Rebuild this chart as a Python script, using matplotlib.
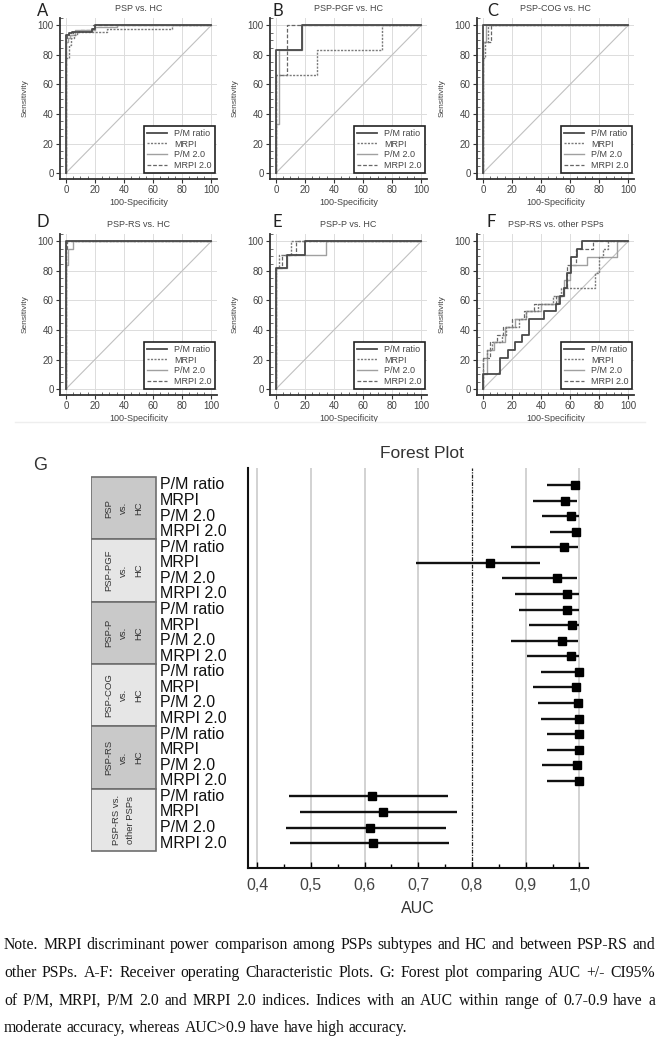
import numpy as np
import matplotlib
matplotlib.use("Agg")
import matplotlib.pyplot as plt
from matplotlib.patches import Rectangle
from matplotlib.ticker import MultipleLocator

plt.rcParams['font.family'] = ['Liberation Sans', 'DejaVu Sans']

##--- ROC data: (100-specificity, sensitivity) step points
index_names = ['P/M ratio', 'MRPI', 'P/M 2.0', 'MRPI 2.0']
roc_titles = ['PSP vs. HC', 'PSP-PGF vs. HC', 'PSP-COG vs. HC',
              'PSP-RS vs. HC', 'PSP-P vs. HC', 'PSP-RS vs. other PSPs']
roc_letters = ['A', 'B', 'C', 'D', 'E', 'F']

roc_A = {
    'P/M ratio': ([0, 0, 2, 2, 4, 4, 18, 18, 20, 20, 100],
                  [0, 93.5, 93.5, 94.6, 94.6, 95.7, 95.7, 97.8, 97.8, 100, 100]),
    'MRPI': ([0, 0, 2, 2, 3.5, 3.5, 5.5, 5.5, 8, 8, 28, 28, 73, 73, 100],
             [0, 78, 78, 87, 87, 91.3, 91.3, 93.5, 93.5, 95.7, 95.7, 97.8, 97.8, 100, 100]),
    'P/M 2.0': ([0, 0, 1.5, 1.5, 3, 3, 6, 6, 20, 20, 35, 35, 100],
                [0, 89, 89, 91.3, 91.3, 93.5, 93.5, 96.8, 96.8, 98.9, 98.9, 100, 100]),
    'MRPI 2.0': ([0, 0, 1, 1, 5, 5, 9, 9, 19, 19, 100],
                 [0, 91.3, 91.3, 93.5, 93.5, 95.7, 95.7, 96.8, 96.8, 100, 100]),
}
roc_B = {
    'P/M ratio': ([0, 0, 18, 18, 100], [0, 83.3, 83.3, 100, 100]),
    'MRPI': ([0, 0, 28, 28, 73, 73, 100], [0, 66.7, 66.7, 83.3, 83.3, 100, 100]),
    'P/M 2.0': ([0, 0, 2, 2, 18, 18, 100], [0, 33.3, 33.3, 83.3, 83.3, 100, 100]),
    'MRPI 2.0': ([0, 0, 8, 8, 100], [0, 66.7, 66.7, 100, 100]),
}
roc_C = {
    'P/M ratio': ([0, 0, 100], [0, 100, 100]),
    'MRPI': ([0, 0, 1.5, 1.5, 3.4, 3.4, 100], [0, 77.8, 77.8, 88.9, 88.9, 100, 100]),
    'P/M 2.0': ([0, 0, 2.5, 2.5, 100], [0, 88.9, 88.9, 100, 100]),
    'MRPI 2.0': ([0, 0, 5.6, 5.6, 100], [0, 88.9, 88.9, 100, 100]),
}
roc_D = {
    'P/M ratio': ([0, 0, 100], [0, 100, 100]),
    'MRPI': ([0, 0, 100], [0, 100, 100]),
    'P/M 2.0': ([0, 0, 1.6, 1.6, 5, 5, 100], [0, 84.2, 84.2, 94.7, 94.7, 100, 100]),
    'MRPI 2.0': ([0, 0, 1, 1, 100], [0, 94.7, 94.7, 100, 100]),
}
roc_E = {
    'P/M ratio': ([0, 0, 7.4, 7.4, 20.4, 20.4, 100], [0, 81.8, 81.8, 90.9, 90.9, 100, 100]),
    'MRPI': ([0, 0, 2.5, 2.5, 10.3, 10.3, 100], [0, 81.8, 81.8, 90.9, 90.9, 100, 100]),
    'P/M 2.0': ([0, 0, 7.4, 7.4, 34.8, 34.8, 100], [0, 81.8, 81.8, 90.9, 90.9, 100, 100]),
    'MRPI 2.0': ([0, 0, 4, 4, 14, 14, 100], [0, 81.8, 81.8, 90.9, 90.9, 100, 100]),
}
roc_F = {
    'P/M ratio': ([0, 0, 12, 12, 17, 17, 22, 22, 27, 27, 32, 32, 42, 42, 50, 50, 53, 53,
                   56, 56, 58, 58, 61, 61, 65, 65, 68, 68, 100],
                  [0, 10.5, 10.5, 21, 21, 26.3, 26.3, 31.6, 31.6, 36.8, 36.8, 47.4, 47.4,
                   52.6, 52.6, 57.9, 57.9, 63.2, 63.2, 68.4, 68.4, 78.9, 78.9, 89.5, 89.5,
                   94.7, 94.7, 100, 100]),
    'MRPI': ([0, 0, 3, 3, 6, 6, 13, 13, 16, 16, 25, 25, 30, 30, 38, 38, 48, 48, 54, 54,
              77, 77, 80, 80, 83, 83, 86, 86, 100],
             [0, 21, 21, 26.3, 26.3, 31.6, 31.6, 36.8, 36.8, 42.1, 42.1, 47.4, 47.4, 52.6,
              52.6, 57.9, 57.9, 63.2, 63.2, 68.4, 68.4, 78.9, 78.9, 89.5, 89.5, 94.7, 94.7,
              100, 100]),
    'P/M 2.0': ([0, 0, 3, 3, 8, 8, 15, 15, 22, 22, 30, 30, 40, 40, 52, 52, 56, 56, 60, 60,
                 72, 72, 92, 92, 100],
                [0, 10.5, 10.5, 26.3, 26.3, 31.6, 31.6, 42.1, 42.1, 47.4, 47.4, 52.6, 52.6,
                 57.9, 57.9, 63.2, 63.2, 73.7, 73.7, 84.2, 84.2, 89.5, 89.5, 100, 100]),
    'MRPI 2.0': ([0, 0, 5, 5, 10, 10, 14, 14, 20, 20, 28, 28, 35, 35, 50, 50, 55, 55, 58, 58,
                  64, 64, 76, 76, 100],
                 [0, 21, 21, 31.6, 31.6, 36.8, 36.8, 42.1, 42.1, 47.4, 47.4, 52.6, 52.6,
                  57.9, 57.9, 63.2, 63.2, 68.4, 68.4, 84.2, 84.2, 94.7, 94.7, 100, 100]),
}
roc_panels = [roc_A, roc_B, roc_C, roc_D, roc_E, roc_F]

##--- forest plot data (AUC and 95% CI)
group_names = ['PSP\nvs.\nHC', 'PSP-PGF\nvs.\nHC', 'PSP-P\nvs.\nHC',
               'PSP-COG\nvs.\nHC', 'PSP-RS\nvs.\nHC', 'PSP-RS vs.\nother PSPs']
auc = [0.991, 0.974, 0.984, 0.994,
       0.972, 0.834, 0.958, 0.977,
       0.977, 0.986, 0.967, 0.985,
       1.000, 0.994, 0.997, 1.000,
       1.000, 1.000, 0.996, 1.000,
       0.614, 0.634, 0.610, 0.615]
ci_lo = [0.940, 0.913, 0.930, 0.945,
         0.873, 0.695, 0.855, 0.881,
         0.888, 0.907, 0.873, 0.903,
         0.929, 0.913, 0.922, 0.929,
         0.940, 0.940, 0.930, 0.940,
         0.459, 0.479, 0.453, 0.461]
ci_hi = [1.000, 0.996, 1.000, 1.000,
         0.997, 0.927, 0.996, 1.000,
         1.000, 1.000, 0.998, 1.000,
         1.000, 1.000, 1.000, 1.000,
         1.000, 1.000, 1.000, 1.000,
         0.755, 0.772, 0.751, 0.757]
auc_ticks = [0.4, 0.5, 0.6, 0.7, 0.8, 0.9, 1.0]
auc_tick_labels = ['0,4', '0,5', '0,6', '0,7', '0,8', '0,9', '1,0']

note_lines = [
    'Note. MRPI discriminant power comparison among PSPs subtypes and HC and between PSP-RS and',
    'other PSPs. A-F: Receiver operating Characteristic Plots. G: Forest plot comparing AUC +/- CI95%',
    'of P/M, MRPI, P/M 2.0 and MRPI 2.0 indices. Indices with an AUC within range of 0.7-0.9 have a',
    'moderate accuracy, whereas AUC>0.9 have have high accuracy.',
]

W, H = 659, 1041
fig = plt.figure(figsize=(W / 100, H / 100), dpi=100)
fig.patch.set_facecolor('white')

line_styles = {
    'P/M ratio': dict(color='#4a4a4a', lw=1.3, ls='-'),
    'MRPI': dict(color='#7a7a7a', lw=1.0, ls=(0, (1.5, 1))),
    'P/M 2.0': dict(color='#a0a0a0', lw=1.0, ls='-'),
    'MRPI 2.0': dict(color='#666666', lw=0.9, ls=(0, (3, 1.5))),
}

# pixel boxes of the six ROC axes: left, top
roc_boxes = [(60, 18), (270, 18), (477, 18), (60, 234), (270, 234), (477, 234)]
letter_pos = [(37, 11), (272, 11), (487, 11), (37, 222), (272, 222), (487, 222)]
aw, ah = 157, 161

for k, data in enumerate(roc_panels):
    lx, ty = roc_boxes[k]
    ax = fig.add_axes([lx / W, 1 - (ty + ah) / H, aw / W, ah / H])
    ax.set_xlim(-4, 104)
    ax.set_ylim(-4, 105)
    ax.xaxis.set_major_locator(MultipleLocator(20))
    ax.yaxis.set_major_locator(MultipleLocator(20))
    ax.xaxis.set_minor_locator(MultipleLocator(5))
    ax.yaxis.set_minor_locator(MultipleLocator(5))
    ax.grid(True, which='major', color='#dcdcdc', lw=0.7)
    ax.set_axisbelow(True)
    ax.plot([0, 100], [0, 100], color='#c0c0c0', lw=0.8)
    for name in index_names[::-1]:
        xs, ys = data[name]
        ax.plot(xs, ys, label=name, **line_styles[name])
    for s in ['top', 'right']:
        ax.spines[s].set_visible(False)
    for s in ['left', 'bottom']:
        ax.spines[s].set_color('#333333')
        ax.spines[s].set_linewidth(1.3)
    ax.tick_params(which='major', direction='out', length=3, width=0.8,
                   colors='#333333', labelsize=7, labelcolor='#444444', pad=1.5)
    ax.tick_params(which='minor', direction='in', length=2, width=0.6, colors='#555555')
    ax.set_title(roc_titles[k], fontsize=6.5, color='#444444', pad=5)
    ax.set_xlabel('100-Specificity', fontsize=6.5, color='#444444')
    ax.set_ylabel('Sensitivity', fontsize=6, color='#444444')
    ax.xaxis.set_label_coords(0.5, -0.12)
    ax.yaxis.set_label_coords(-0.2, 0.5)
    handles, labels = ax.get_legend_handles_labels()
    leg = ax.legend(handles[::-1], labels[::-1], loc='lower right',
                    bbox_to_anchor=(0.985, 0.035), fontsize=6.5, frameon=True,
                    fancybox=False, framealpha=1, edgecolor='#222222',
                    handlelength=2.2, handletextpad=0.8, labelspacing=0.2,
                    borderpad=0.35, borderaxespad=0)
    leg.get_frame().set_linewidth(1.2)
    for t in leg.get_texts():
        t.set_color('#444444')
    fx, fy = letter_pos[k]
    fig.text(fx / W, 1 - fy / H, roc_letters[k], fontsize=12, family=['Lato', 'DejaVu Sans'],
             color='#222222', ha='left', va='center')

# faint frame line under the ROC figure
fig.add_artist(plt.Line2D([15 / W, 645 / W], [1 - 422 / H, 1 - 422 / H],
                          color='#eeeeee', lw=1))

##--- forest plot
n = len(auc)
rows = np.arange(n)
f_left, f_right, f_top, f_bot = 248, 588, 468, 868
axf = fig.add_axes([f_left / W, 1 - f_bot / H, (f_right - f_left) / W, (f_bot - f_top) / H])
axf.set_xlim(0.383, 1.016)
axf.set_ylim(n + 0.6, -1.09)
for g in [0.4, 0.5, 0.6, 0.7, 0.9, 1.0]:
    axf.axvline(g, color='#cfcfcf', lw=1.3, zorder=0)
axf.axvline(0.8, color='#222222', lw=0.9, ls=(0, (3, 1, 1, 1)), zorder=1)
axf.hlines(rows, ci_lo, ci_hi, color='#111111', lw=1.7, zorder=2)
axf.plot(auc, rows, 's', color='#000000', markersize=5.5, zorder=3)
axf.set_xticks(auc_ticks)
axf.set_xticklabels(auc_tick_labels)
axf.xaxis.set_minor_locator(MultipleLocator(0.05))
axf.set_yticks([])
for s in ['top', 'right']:
    axf.spines[s].set_visible(False)
for s in ['left', 'bottom']:
    axf.spines[s].set_color('#111111')
    axf.spines[s].set_linewidth(1.5)
axf.tick_params(axis='x', which='major', direction='in', length=4, width=1,
                labelsize=11.5, labelcolor='#444444', pad=7)
axf.tick_params(axis='x', which='minor', direction='in', length=3, width=1)
axf.set_xlabel('AUC', fontsize=11.5, color='#333333', labelpad=6)
fig.text(422 / W, 1 - 453 / H, 'Forest Plot', fontsize=12.5, color='#333333',
         ha='center', va='center')
fig.text(40 / W, 1 - 465 / H, 'G', fontsize=13, color='#333333', ha='center', va='center')

# table with group boxes and index names
axt = fig.add_axes([91 / W, 1 - f_bot / H, (f_left - 91) / W, (f_bot - f_top) / H], sharey=axf)
axt.axis('off')
trans = axt.get_yaxis_transform()
box_w = 65 / (f_left - 91)
box_faces = ['#c9c9c9', '#e6e6e6', '#c9c9c9', '#e6e6e6', '#c9c9c9', '#e6e6e6']
for g, name in enumerate(group_names):
    axt.add_patch(Rectangle((0, g * 4 - 0.5), box_w, 4, transform=trans,
                            facecolor=box_faces[g], edgecolor='#6e6e6e', lw=1.2))
    axt.text(box_w / 2, g * 4 + 1.5, name, transform=trans, rotation=90,
             ha='center', va='center', multialignment='center',
             fontsize=6.8, color='#333333', linespacing=1.85)
for i in rows:
    axt.text(0.44, i, index_names[i % 4], transform=trans, ha='left', va='center',
             fontsize=11.5, color='#111111')

##--- note text, justified like the original caption
renderer = fig.canvas.get_renderer()
note_font = dict(fontsize=11.3, family=['Liberation Serif', 'DejaVu Serif'], color='#111111',
                 va='center', ha='left')
note_y = [945, 973, 1001, 1028]
x0_px, x1_px = 4, 655
for j, line in enumerate(note_lines):
    words = line.split(' ')
    texts = [fig.text(0, 1 - note_y[j] / H, w, **note_font) for w in words]
    widths = [t.get_window_extent(renderer).width for t in texts]
    if j < len(note_lines) - 1:
        gap = (x1_px - x0_px - sum(widths)) / (len(words) - 1)
    else:
        gap = 0.25 * 11.3 * 100 / 72
    x = x0_px
    for t, wd in zip(texts, widths):
        t.set_x(x / W)
        x += wd + gap

fig.savefig('out.png', dpi=100)
